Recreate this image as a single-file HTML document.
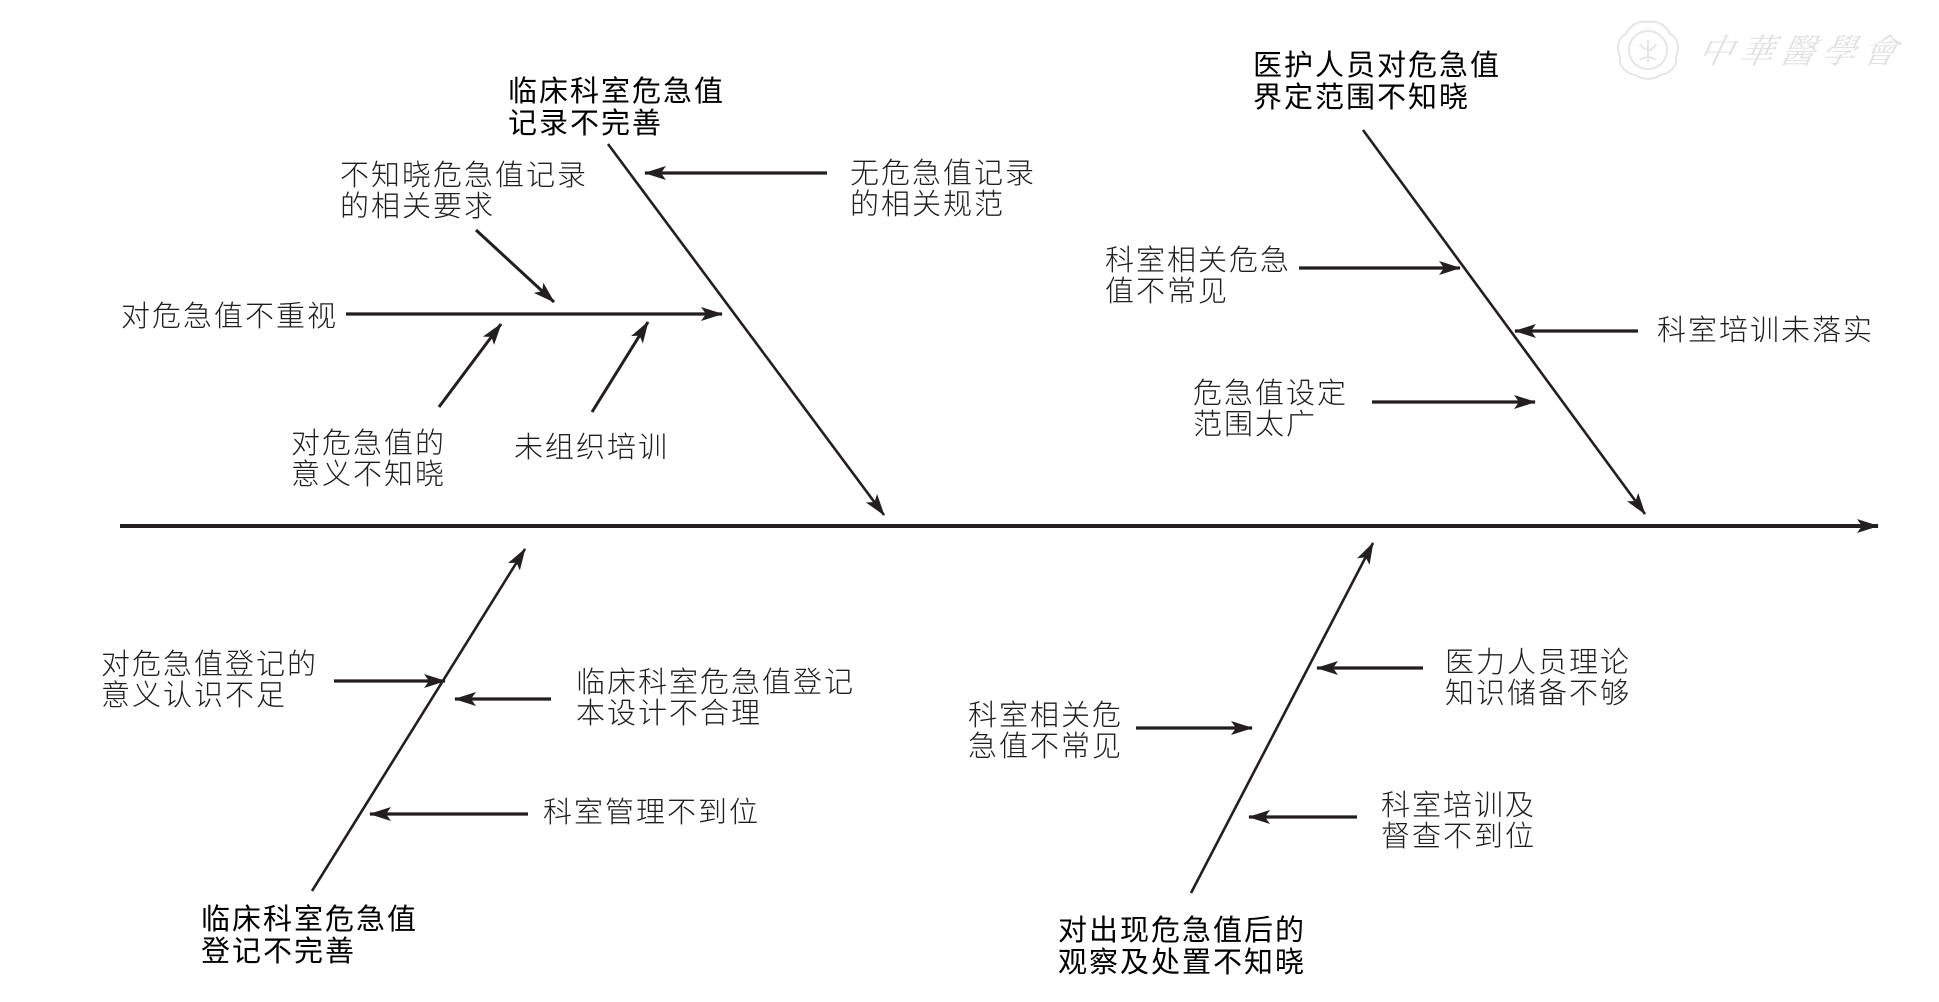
<!DOCTYPE html>
<html>
<head>
<meta charset="utf-8">
<style>
  html, body { margin:0; padding:0; background:#fff; }
  body { width:1939px; height:1002px; position:relative; overflow:hidden; }
  .t { position:absolute; white-space:nowrap; font-family:"Liberation Sans","Noto Sans CJK SC",sans-serif;
       font-size:29px; letter-spacing:2px; line-height:31px; color:#1e1e1e; font-weight:300; }
  .h { line-height:32px; color:#000; font-weight:400; }
  svg { position:absolute; left:0; top:0; }
  .wm { position:absolute; left:1700px; top:24px; font-family:"Noto Serif CJK SC","Liberation Serif",serif;
        font-size:34px; letter-spacing:7px; color:#e2e2e2; font-style:italic; transform:skewX(-12deg); white-space:nowrap; }
</style>
</head>
<body>
<svg width="1939" height="1002" viewBox="0 0 1939 1002">
  <defs>
    <marker id="a" markerWidth="22" markerHeight="14" refX="21" refY="7" orient="auto" markerUnits="userSpaceOnUse">
      <path d="M0,0 L22,7 L0,14 L5,7 Z" fill="#231f20"/>
    </marker>
  </defs>
  <g stroke="#231f20" fill="none" stroke-linecap="butt">
    <line x1="120" y1="526" x2="1878" y2="526" stroke-width="4" marker-end="url(#a)"/>

    <line x1="608" y1="144" x2="884" y2="515" stroke-width="2.6" marker-end="url(#a)"/>
    <line x1="1363" y1="130" x2="1645" y2="514" stroke-width="2.6" marker-end="url(#a)"/>
    <line x1="312" y1="891" x2="525" y2="549" stroke-width="2.6" marker-end="url(#a)"/>
    <line x1="1191" y1="893" x2="1373" y2="543" stroke-width="2.6" marker-end="url(#a)"/>

    <line x1="827" y1="173" x2="645" y2="173" stroke-width="3.2" marker-end="url(#a)"/>
    <line x1="476" y1="230" x2="554" y2="302" stroke-width="3" marker-end="url(#a)"/>
    <line x1="346" y1="314" x2="722" y2="314" stroke-width="3.2" marker-end="url(#a)"/>
    <line x1="439" y1="407" x2="501" y2="324" stroke-width="3" marker-end="url(#a)"/>
    <line x1="592" y1="412" x2="648" y2="322" stroke-width="3" marker-end="url(#a)"/>

    <line x1="1299" y1="268" x2="1460" y2="268" stroke-width="3.2" marker-end="url(#a)"/>
    <line x1="1638" y1="331" x2="1515" y2="331" stroke-width="3.2" marker-end="url(#a)"/>
    <line x1="1372" y1="402" x2="1535" y2="402" stroke-width="3.2" marker-end="url(#a)"/>

    <line x1="334" y1="681" x2="445" y2="681" stroke-width="3.2" marker-end="url(#a)"/>
    <line x1="551" y1="699" x2="455" y2="699" stroke-width="3.2" marker-end="url(#a)"/>
    <line x1="528" y1="814" x2="370" y2="814" stroke-width="3.2" marker-end="url(#a)"/>

    <line x1="1423" y1="668" x2="1317" y2="668" stroke-width="3.2" marker-end="url(#a)"/>
    <line x1="1136" y1="728" x2="1252" y2="728" stroke-width="3.2" marker-end="url(#a)"/>
    <line x1="1357" y1="817" x2="1249" y2="817" stroke-width="3.2" marker-end="url(#a)"/>
  </g>

  <g stroke="#e6e6e6" fill="none" stroke-width="2">
    <path d="M1648,22 C1660,20 1668,28 1670,34 C1678,38 1680,48 1676,56 C1678,66 1670,74 1660,75 C1654,80 1642,80 1636,75 C1626,74 1618,66 1620,56 C1616,48 1618,38 1626,34 C1628,28 1636,20 1648,22 Z"/>
    <circle cx="1648" cy="50" r="19"/>
    <path d="M1640,44 C1645,52 1652,52 1656,44 M1648,40 L1648,62 M1640,60 C1645,56 1651,56 1656,60"/>
  </g>
</svg>

<div class="wm">中華醫學會</div>

<div class="t h" style="left:508px;top:76px;">临床科室危急值<br>记录不完善</div>
<div class="t" style="left:850px;top:159px;">无危急值记录<br>的相关规范</div>
<div class="t" style="left:340px;top:161px;">不知晓危急值记录<br>的相关要求</div>
<div class="t" style="left:121px;top:302px;">对危急值不重视</div>
<div class="t" style="left:291px;top:429px;">对危急值的<br>意义不知晓</div>
<div class="t" style="left:514px;top:433px;">未组织培训</div>

<div class="t h" style="left:1253px;top:50px;">医护人员对危急值<br>界定范围不知晓</div>
<div class="t" style="left:1105px;top:246px;">科室相关危急<br>值不常见</div>
<div class="t" style="left:1657px;top:316px;">科室培训未落实</div>
<div class="t" style="left:1193px;top:379px;">危急值设定<br>范围太广</div>

<div class="t" style="left:101px;top:650px;">对危急值登记的<br>意义认识不足</div>
<div class="t" style="left:576px;top:668px;">临床科室危急值登记<br>本设计不合理</div>
<div class="t" style="left:543px;top:798px;">科室管理不到位</div>
<div class="t h" style="left:201px;top:904px;">临床科室危急值<br>登记不完善</div>

<div class="t" style="left:1445px;top:648px;">医力人员理论<br>知识储备不够</div>
<div class="t" style="left:968px;top:701px;">科室相关危<br>急值不常见</div>
<div class="t" style="left:1381px;top:791px;">科室培训及<br>督查不到位</div>
<div class="t h" style="left:1058px;top:915px;">对出现危急值后的<br>观察及处置不知晓</div>
</body>
</html>
